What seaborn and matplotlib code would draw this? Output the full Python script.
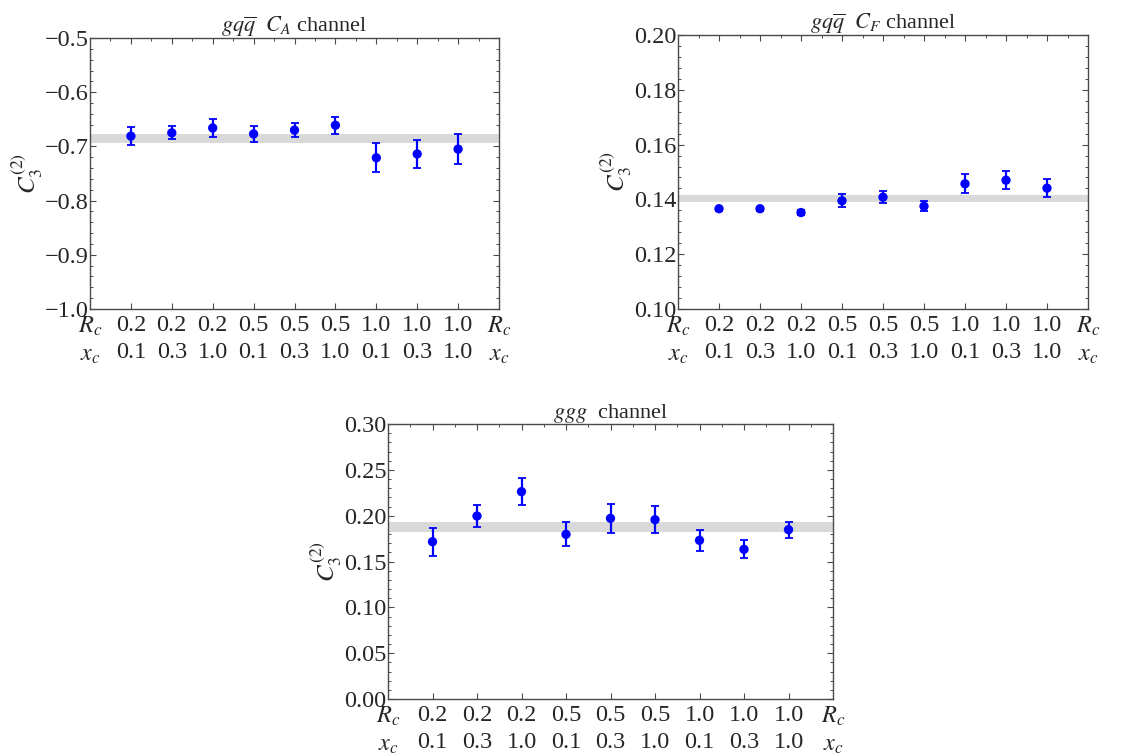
import numpy as np
import pandas as pd
import matplotlib
matplotlib.use("Agg")
import matplotlib.pyplot as plt
import seaborn as sns
from matplotlib.ticker import MultipleLocator, FixedLocator

sns.set_style("ticks")
plt.rcParams['font.family'] = ['Liberation Serif', 'DejaVu Serif']
plt.rcParams['mathtext.fontset'] = 'stix'

# abscisses : combinaisons (R_c, x_c)
Rc = ["0.2", "0.2", "0.2", "0.5", "0.5", "0.5", "1.0", "1.0", "1.0"]
xc = ["0.1", "0.3", "1.0", "0.1", "0.3", "1.0", "0.1", "0.3", "1.0"]

# canal g q qbar, C_A
ca_val = [-0.681, -0.675, -0.666, -0.677, -0.670, -0.661, -0.721, -0.714, -0.705]
ca_err = [0.016, 0.012, 0.017, 0.015, 0.013, 0.016, 0.027, 0.026, 0.027]
ca_band = [-0.694, -0.677]

# canal g q qbar, C_F
cf_val = [0.1366, 0.1366, 0.1352, 0.1395, 0.1408, 0.1375, 0.1457, 0.1470, 0.1441]
cf_err = [0.0008, 0.0008, 0.0008, 0.0023, 0.0022, 0.0018, 0.0035, 0.0033, 0.0032]
cf_band = [0.1392, 0.1417]

# canal ggg
gg_val = [0.1716, 0.1996, 0.2262, 0.1796, 0.1971, 0.1956, 0.1731, 0.1633, 0.1847]
gg_err = [0.0153, 0.0124, 0.0144, 0.0131, 0.0156, 0.0147, 0.0111, 0.0098, 0.0087]
gg_band = [0.1825, 0.1931]

W, H = 1145, 753
fig = plt.figure(figsize=(W / 100, H / 100), dpi=100)

def make_ax(l, r, t, b):
    return fig.add_axes([l / W, 1 - b / H, (r - l) / W, (b - t) / H])

frame = '#4a4a4a'

def panel(ax, val, err, band, ylim, major, minor, fmt, title):
    df = pd.DataFrame({'pos': np.arange(1, len(val) + 1), 'val': val, 'err': err})
    ax.axhspan(band[0], band[1], color='#d9d9d9', lw=0, zorder=1)
    ax.errorbar(df['pos'], df['val'], yerr=df['err'], fmt='none', ecolor='blue',
                elinewidth=1.6, capsize=3, capthick=1.3, zorder=2)
    sns.scatterplot(data=df, x='pos', y='val', ax=ax, color='blue', s=45,
                    edgecolor='none', zorder=3, legend=False)
    ax.set_xlim(0, 10)
    ax.set_ylim(*ylim)
    ax.yaxis.set_major_locator(MultipleLocator(major))
    ax.yaxis.set_minor_locator(MultipleLocator(minor))
    ax.yaxis.set_major_formatter(matplotlib.ticker.FuncFormatter(
        lambda v, p: (fmt % v).replace('-', '\u2212')))
    labels = ['$R_c$\n$x_c$'] + [f'{r}\n{x}' for r, x in zip(Rc, xc)] + ['$R_c$\n$x_c$']
    ax.set_xticks(np.arange(0, 11))
    ax.set_xticklabels(labels, linespacing=1.4)
    ax.xaxis.set_minor_locator(FixedLocator(np.arange(0.5, 10, 0.5)))
    ax.tick_params(axis='both', which='both', direction='in', color=frame,
                   labelsize=17.5, top=True, right=True)
    ax.tick_params(axis='x', which='major', length=4, width=0.8, pad=4)
    ax.tick_params(axis='x', which='minor', bottom=False, top=True, length=2.5, width=0.7)
    ax.tick_params(axis='y', which='major', length=4, width=0.8, pad=1)
    ax.tick_params(axis='y', which='minor', length=2.5, width=0.7)
    # pas de graduations x aux bords
    for t in ax.xaxis.get_major_ticks():
        if t.get_loc() in (0, 10):
            t.tick1line.set_visible(False)
            t.tick2line.set_visible(False)
    for s in ax.spines.values():
        s.set_color(frame)
        s.set_linewidth(1.0)
    ax.set_xlabel('')
    ax.set_ylabel('$C_3^{(2)}$', fontsize=18, labelpad=0)
    ax.set_title(title, fontsize=16, pad=4)

ax1 = make_ax(90, 499, 38, 309)
panel(ax1, ca_val, ca_err, ca_band, (-1.0, -0.5), 0.1, 0.02, '%.1f',
      r'$gq\overline{q}$  $C_A$ channel')

ax2 = make_ax(678, 1088, 35, 309)
panel(ax2, cf_val, cf_err, cf_band, (0.10, 0.20), 0.02, 0.004, '%.2f',
      r'$gq\overline{q}$  $C_F$ channel')

ax3 = make_ax(388, 833, 424, 699)
panel(ax3, gg_val, gg_err, gg_band, (0.0, 0.30), 0.05, 0.01, '%.2f',
      r'$ggg$  channel')

fig.savefig('out.png', dpi=100)
